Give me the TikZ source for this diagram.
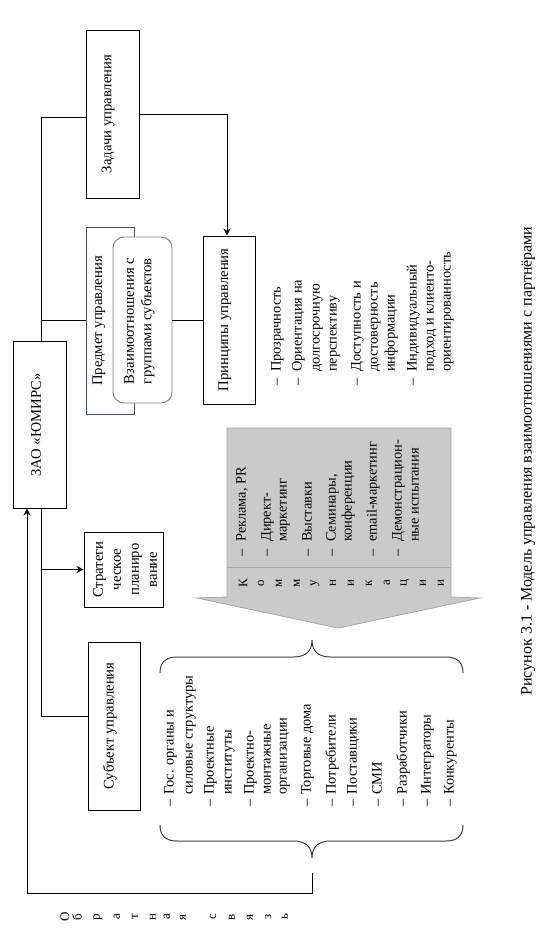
\documentclass[tikz,border=0pt]{standalone}
\usepackage{fontspec}
\setmainfont{Liberation Serif}
\usetikzlibrary{arrows.meta}
\definecolor{slate}{HTML}{3A5670}
\definecolor{rbox}{HTML}{808080}
\definecolor{arrfill}{HTML}{CACACA}
\definecolor{arredge}{HTML}{A6A6A6}
\definecolor{brc}{HTML}{404040}
\begin{document}
\begin{tikzpicture}[x=1pt,y=-1pt,
  blk/.style={draw=black, line width=1pt, inner sep=0pt, fill=white},
  rt/.style={rotate=90, font=\fontsize{14.7}{17.5}\selectfont, inner sep=0pt, align=center},
  li/.style={rotate=90, anchor=west, inner sep=0pt, font=\fontsize{14.4}{16}\selectfont, text height=10pt, text depth=3pt},
  dsh/.style={rotate=90, inner sep=0pt, font=\fontsize{14.4}{16}\selectfont, text height=10pt, text depth=3pt},
  sp/.style={rotate=90, inner sep=0pt, font=\fontsize{13}{13}\selectfont},
  ln/.style={line width=1pt},
  arr/.style={line width=1pt, -{Stealth[length=7pt,width=7pt]}}]
\useasboundingbox (0,0) rectangle (544,932);
\fill[white] (0,0) rectangle (544,932);

% boxes
\node[blk, minimum width=53pt, minimum height=168pt] (zad) at (112.5,114) {};
\node[rt] (zadT) at (108,114) {Задачи управления};
\node[blk, minimum width=52pt, minimum height=168pt] (prin) at (229,320) {};
\node[rt] (prinT) at (225,320) {Принципы управления};
\node[blk, draw=slate, minimum width=48pt, minimum height=187pt] (pred) at (110,320.5) {};
\node[rt] (predT) at (99,321) {Предмет управления};
\node[draw=rbox, line width=0.9pt, fill=white, rounded corners=11pt, inner sep=0pt, minimum width=59pt, minimum height=166pt] (vz) at (142.5,320) {};
\node[rt, align=left] (vzT) at (139.5,321) {Взаимоотношения с\\группами субъектов};
\node[blk, minimum width=53pt, minimum height=167pt] (zao) at (39.5,424.5) {};
\node[rt] (zaoT) at (36,425) {ЗАО «ЮМИРС»};
\node[blk, minimum width=79pt, minimum height=75pt] (strat) at (123.5,569.5) {};
\node[rt, font=\fontsize{14.7}{18}\selectfont] (stratT) at (125,569.5) {Стратеги\\ческое\\планиро\\вание};
\node[blk, minimum width=52pt, minimum height=168pt] (sub) at (114,726) {};
\node[rt] (subT) at (110,726) {Субъект управления};

% coordinates
\coordinate (zt) at ([xshift=1.5pt]zao.north);
\coordinate (zb) at ([xshift=1.5pt]zao.south);
\coordinate (zf) at ([xshift=-12.5pt]zao.south);
\coordinate (ft) at (312,873);

% connectors
\draw[ln] ([yshift=-3pt]zad.west) -| (zt);
\draw[arr] (zad.east) -| ([xshift=-2pt]prin.north);
\draw[ln] (pred.west) -- (pred.west -| zt);
\draw[ln] (vz.east) -- (vz.east -| prin.west);
\draw[ln] (zb) |- ([yshift=10pt]sub.west);
\draw[arr] (strat.west -| zb) -- (strat.west);
\draw[arr] (ft) |- (zf |- 0,893) -- (zf);

% gray arrow
\draw[fill=arrfill, draw=arredge, line width=0.8pt] (227,428) -- (451,428) -- (451,597) -- (480,598) -- (338,628) -- (197,598) -- (227,597) -- cycle;
\draw[draw=arredge, line width=0.8pt] (227,567) -- (451,567);

% braces
\draw[brc, line width=1pt] (160,673) .. controls (160,662) and (166,657) .. (177,657) -- (293,657)
  .. controls (305,657) and (312,652) .. (312,640)
  .. controls (312,652) and (319,657) .. (331,657) -- (446,657)
  .. controls (457,657) and (463,662) .. (463,673);
\draw[brc, line width=1pt] (160,825) .. controls (160,836) and (166,841) .. (177,841) -- (293,841)
  .. controls (305,841) and (312,846) .. (312,858)
  .. controls (312,846) and (319,841) .. (331,841) -- (446,841)
  .. controls (457,841) and (463,836) .. (463,825);

% principles list
\node[dsh] (pd1) at (277,382) {–};
\node[li] (p1) at (277,372) {Прозрачность};
\node[dsh] (pd2) at (298,382) {–};
\node[li] (p2) at (298,372) {Ориентация на};
\node[li] (p3) at (316,372) {долгосрочную};
\node[li] (p4) at (333,372) {перспективу};
\node[dsh] (pd3) at (357,382) {–};
\node[li] (p5) at (357,372) {Доступность и};
\node[li] (p6) at (374,372) {достоверность};
\node[li] (p7) at (391,372) {информации};
\node[dsh] (pd4) at (413,382) {–};
\node[li] (p8) at (413,372) {Индивидуальный};
\node[li] (p9) at (430,372) {подход и клиенто-};
\node[li] (p10) at (447,372) {ориентированность};

% arrow list
\node[dsh] (ad1) at (242,553) {–};
\node[li] (a1) at (242,542) {Реклама, PR};
\node[dsh] (ad2) at (267,553) {–};
\node[li] (a2) at (267,542) {Директ-};
\node[li] (a3) at (283,542) {маркетинг};
\node[dsh] (ad3) at (308,553) {–};
\node[li] (a4) at (308,542) {Выставки};
\node[dsh] (ad4) at (332,553) {–};
\node[li] (a5) at (332,542) {Семинары,};
\node[li] (a6) at (348,542) {конференции};
\node[dsh] (ad5) at (373,553) {–};
\node[li] (a7) at (373,542) {email-маркетинг};
\node[dsh] (ad6) at (398,553) {–};
\node[li] (a8) at (398,542) {Демонстрацион-};
\node[li] (a9) at (415,542) {ные испытания};

\foreach \c [count=\i from 0] in {К,о,м,м,у,н,и,к,а,ц,и,и}
  \node[sp] (k\i) at ({243+18*\i},583) {\c};

% subjects list
\node[dsh] (bd1) at (170,803) {–};
\node[li] (b1) at (170,795) {Гос. органы и};
\node[li] (b2) at (189,795) {силовые структуры};
\node[dsh] (bd2) at (210,803) {–};
\node[li] (b3) at (210,795) {Проектные};
\node[li] (b4) at (228,795) {институты};
\node[dsh] (bd3) at (250,803) {–};
\node[li] (b5) at (250,795) {Проектно-};
\node[li] (b6) at (267,795) {монтажные};
\node[li] (b7) at (283,795) {организации};
\node[dsh] (bd4) at (307,803) {–};
\node[li] (b8) at (307,795) {Торговые дома};
\node[dsh] (bd5) at (332,803) {–};
\node[li] (b9) at (332,795) {Потребители};
\node[dsh] (bd6) at (353,803) {–};
\node[li] (b10) at (353,795) {Поставщики};
\node[dsh] (bd7) at (378,803) {–};
\node[li] (b11) at (378,795) {СМИ};
\node[dsh] (bd8) at (403,803) {–};
\node[li] (b12) at (403,795) {Разработчики};
\node[dsh] (bd9) at (427,803) {–};
\node[li] (b13) at (427,795) {Интеграторы};
\node[dsh] (bd10) at (450,803) {–};
\node[li] (b14) at (450,795) {Конкуренты};

% feedback label
\foreach \c/\p [count=\i] in {О/65,б/77,р/98,а/117,т/135,н/153,а/167,я/183,с/213,в/232,я/250,з/268,ь/285}
  \node[sp] (o\i) at (\p,917) {\c};

% caption
\node[rotate=90, inner sep=0pt, font=\fontsize{16}{18}\selectfont] (cap) at (528,461) {Рисунок 3.1 - Модель управления взаимоотношениями с партнёрами};
\end{tikzpicture}
\end{document}
